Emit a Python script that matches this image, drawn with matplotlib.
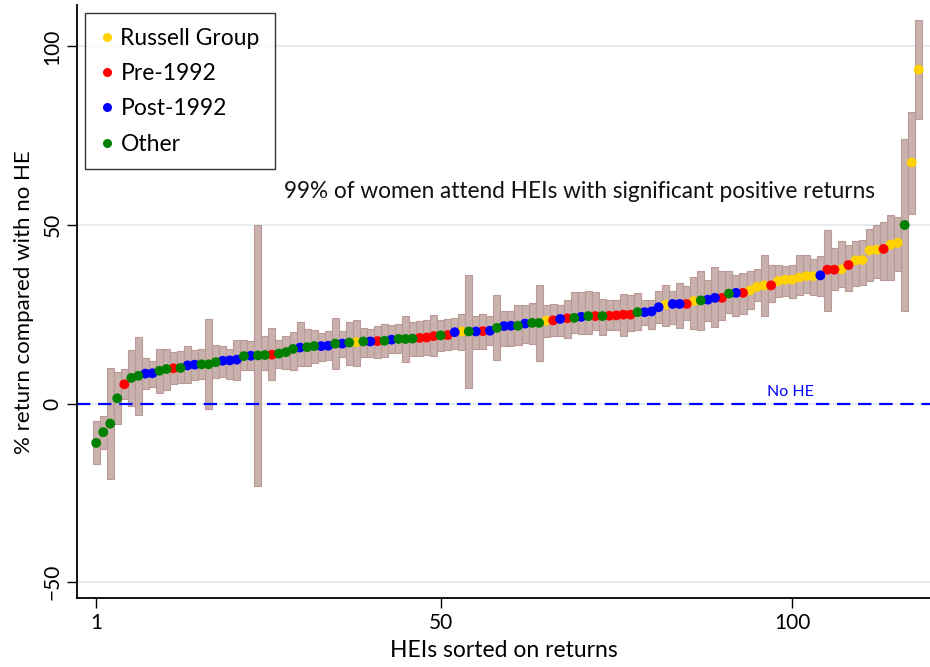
import matplotlib
matplotlib.use('Agg')
import matplotlib.pyplot as plt
from matplotlib.lines import Line2D

plt.rcParams['font.family'] = ['Lato', 'DejaVu Sans']

# group of each HEI, in rank order: RG = Russell Group, PRE = Pre-1992, POST = Post-1992, OTH = Other
groups = [
    'OTH', 'OTH', 'OTH', 'OTH', 'PRE', 'OTH', 'OTH', 'POST', 'POST', 'OTH',
    'OTH', 'PRE', 'OTH', 'POST', 'POST', 'OTH', 'OTH', 'OTH', 'POST', 'POST',
    'POST', 'OTH', 'POST', 'OTH', 'OTH', 'PRE', 'OTH', 'OTH', 'OTH', 'POST',
    'OTH', 'OTH', 'POST', 'POST', 'OTH', 'POST', 'OTH', 'RG', 'OTH', 'POST',
    'PRE', 'OTH', 'POST', 'OTH', 'OTH', 'OTH', 'PRE', 'PRE', 'PRE', 'OTH',
    'PRE', 'POST', 'RG', 'OTH', 'POST', 'PRE', 'POST', 'OTH', 'POST', 'POST',
    'OTH', 'POST', 'OTH', 'OTH', 'RG', 'PRE', 'POST', 'PRE', 'OTH', 'POST',
    'OTH', 'PRE', 'OTH', 'PRE', 'PRE', 'PRE', 'PRE', 'OTH', 'POST', 'POST',
    'POST', 'RG', 'POST', 'POST', 'PRE', 'RG', 'OTH', 'POST', 'POST', 'PRE',
    'OTH', 'POST', 'PRE', 'RG', 'RG', 'RG', 'PRE', 'RG', 'RG', 'RG',
    'RG', 'RG', 'RG', 'POST', 'PRE', 'PRE', 'RG', 'PRE', 'RG', 'RG',
    'RG', 'RG', 'PRE', 'RG', 'RG', 'OTH', 'RG', 'RG',
]

returns = [
    -11.0, -8.0, -5.6, 1.5, 5.4, 7.2, 7.8, 8.4, 8.5, 9.2,
    9.7, 9.9, 10.0, 10.7, 10.9, 11.0, 11.0, 11.6, 12.0, 12.1,
    12.3, 13.3, 13.4, 13.5, 13.6, 13.7, 14.0, 14.4, 15.3, 15.7,
    15.8, 16.1, 16.1, 16.2, 16.8, 16.8, 17.1, 17.2, 17.4, 17.4,
    17.5, 17.6, 17.9, 18.1, 18.1, 18.2, 18.4, 18.5, 18.9, 19.1,
    19.2, 20.0, 20.2, 20.2, 20.2, 20.3, 20.4, 21.2, 21.7, 21.8,
    21.8, 22.4, 22.6, 22.6, 23.2, 23.3, 23.7, 23.9, 24.0, 24.3,
    24.5, 24.5, 24.5, 24.6, 24.7, 24.9, 24.9, 25.6, 25.6, 25.8,
    27.0, 27.7, 27.9, 27.9, 27.9, 28.7, 28.9, 29.1, 29.6, 29.6,
    30.8, 31.0, 31.0, 31.7, 32.7, 33.1, 33.1, 34.3, 34.7, 34.7,
    35.3, 35.7, 35.7, 35.9, 37.5, 37.5, 37.6, 38.8, 40.1, 40.2,
    42.9, 43.1, 43.3, 44.5, 45.0, 50.0, 67.5, 93.5,
]

ci_low = [
    -16.8, -12.6, -21.1, -5.6, 1.2, -0.6, -3.1, 4.1, 4.7, 3.0,
    3.9, 5.6, 5.8, 5.8, 6.7, 6.9, -1.5, 7.2, 7.5, 6.9,
    6.7, 9.3, 9.5, -23.0, 9.5, 6.5, 10.0, 9.7, 9.5, 10.5,
    10.5, 11.4, 11.9, 12.1, 9.7, 13.1, 10.9, 10.5, 13.1, 13.1,
    12.8, 13.1, 14.2, 14.2, 11.6, 13.4, 13.4, 13.7, 13.3, 14.7,
    15.1, 15.3, 15.1, 4.4, 15.3, 15.3, 16.5, 12.3, 16.1, 16.1,
    16.5, 17.0, 16.8, 11.9, 18.7, 18.9, 18.9, 18.4, 19.8, 19.5,
    19.6, 20.7, 19.3, 20.7, 20.7, 19.0, 20.3, 20.7, 22.1, 20.9,
    22.6, 21.8, 22.4, 21.2, 23.5, 20.9, 20.5, 23.1, 21.5, 23.3,
    25.4, 24.5, 25.2, 26.5, 28.7, 24.5, 28.4, 29.9, 30.1, 29.6,
    30.5, 31.0, 30.5, 30.1, 25.9, 31.9, 32.7, 31.5, 32.9, 33.3,
    34.3, 35.2, 34.7, 34.7, 37.0, 25.9, 53.2, 79.7,
]

ci_high = [
    -5.0, -3.4, 10.0, 8.8, 9.8, 15.1, 18.7, 12.8, 12.0, 15.3,
    15.3, 14.4, 14.7, 16.1, 15.1, 15.3, 23.7, 16.5, 16.1, 15.3,
    17.9, 17.9, 17.5, 50.1, 18.9, 21.2, 17.9, 18.9, 20.0, 22.8,
    20.9, 20.7, 19.8, 20.3, 24.0, 20.3, 22.8, 23.5, 21.2, 20.9,
    21.7, 22.4, 22.1, 22.3, 24.6, 22.8, 23.1, 23.5, 24.9, 23.3,
    23.7, 24.0, 25.2, 35.9, 24.5, 25.2, 24.5, 30.3, 25.9, 25.9,
    27.5, 27.7, 28.2, 33.3, 27.7, 28.0, 27.7, 28.9, 31.2, 31.2,
    31.5, 31.2, 29.3, 29.1, 29.1, 30.8, 30.3, 31.0, 29.1, 29.1,
    31.5, 33.2, 31.5, 33.8, 32.9, 35.5, 37.1, 34.7, 38.3, 37.1,
    37.1, 36.1, 36.6, 37.1, 37.7, 41.7, 38.9, 38.9, 38.5, 38.9,
    41.7, 41.7, 40.5, 41.3, 48.7, 43.6, 45.5, 44.3, 45.5, 45.9,
    48.9, 49.9, 50.8, 52.7, 52.2, 74.1, 81.7, 107.4,
]

group_codes = ['RG', 'PRE', 'POST', 'OTH']
group_labels = ['Russell Group', 'Pre-1992', 'Post-1992', 'Other']
group_colors = ['#ffd200', '#ff0000', '#0000ff', '#008000']

rank = list(range(1, len(returns) + 1))
heights = [h - l for l, h in zip(ci_low, ci_high)]

fig = plt.figure(figsize=(9.3, 6.67), dpi=100)
ax = fig.add_axes([0.083, 0.103, 0.917, 0.889])

ax.bar(rank, heights, bottom=ci_low, width=1.0, color='#c9b1ad',
       edgecolor='#b99a95', linewidth=0.8, zorder=1)

ax.axhline(0, color='#0000ff', linestyle=(0, (6, 3.5)), linewidth=1.6, zorder=2)
ax.text(99.8, 1.2, 'No HE', color='#0000ff', fontsize=11.5, ha='center', va='bottom')

for code, color in zip(group_codes, group_colors):
    xs = [r for r, g in zip(rank, groups) if g == code]
    ys = [v for v, g in zip(returns, groups) if g == code]
    ax.scatter(xs, ys, s=50, color=color, edgecolors='none', zorder=3)

ax.text(69.8, 59.5, '99% of women attend HEIs with significant positive returns',
        fontsize=16.3, ha='center', va='center', color='#111111')

ax.set_xlim(-1.7, 119.6)
ax.set_ylim(-54.5, 111.5)
ax.set_xticks([1, 50, 100])
ax.set_yticks([-50, 0, 50, 100])
ax.tick_params(axis='both', labelsize=15, length=7, width=1.0, direction='out')
for lab in ax.get_yticklabels():
    lab.set_rotation(90)
    lab.set_va('center')
ax.yaxis.grid(True, color='#e4ecef', linewidth=1.3)
ax.set_axisbelow(True)

for side in ['top', 'right']:
    ax.spines[side].set_visible(False)
for side in ['left', 'bottom']:
    ax.spines[side].set_linewidth(1.3)

ax.set_xlabel('HEIs sorted on returns', fontsize=16.5, labelpad=5)
ax.set_ylabel('% return compared with no HE', fontsize=16, labelpad=6)

handles = [Line2D([], [], marker='o', linestyle='none', markersize=6.5,
                  markerfacecolor=c, markeredgecolor='none') for c in group_colors]
leg = ax.legend(handles, group_labels, loc='upper left', bbox_to_anchor=(0.009, 0.987),
                fontsize=16.5, frameon=True, fancybox=False, edgecolor='black',
                handlelength=0.6, handletextpad=0.3, labelspacing=0.62,
                borderpad=0.65, borderaxespad=0)
leg.get_frame().set_linewidth(1.0)

fig.savefig('out.png', dpi=100)
